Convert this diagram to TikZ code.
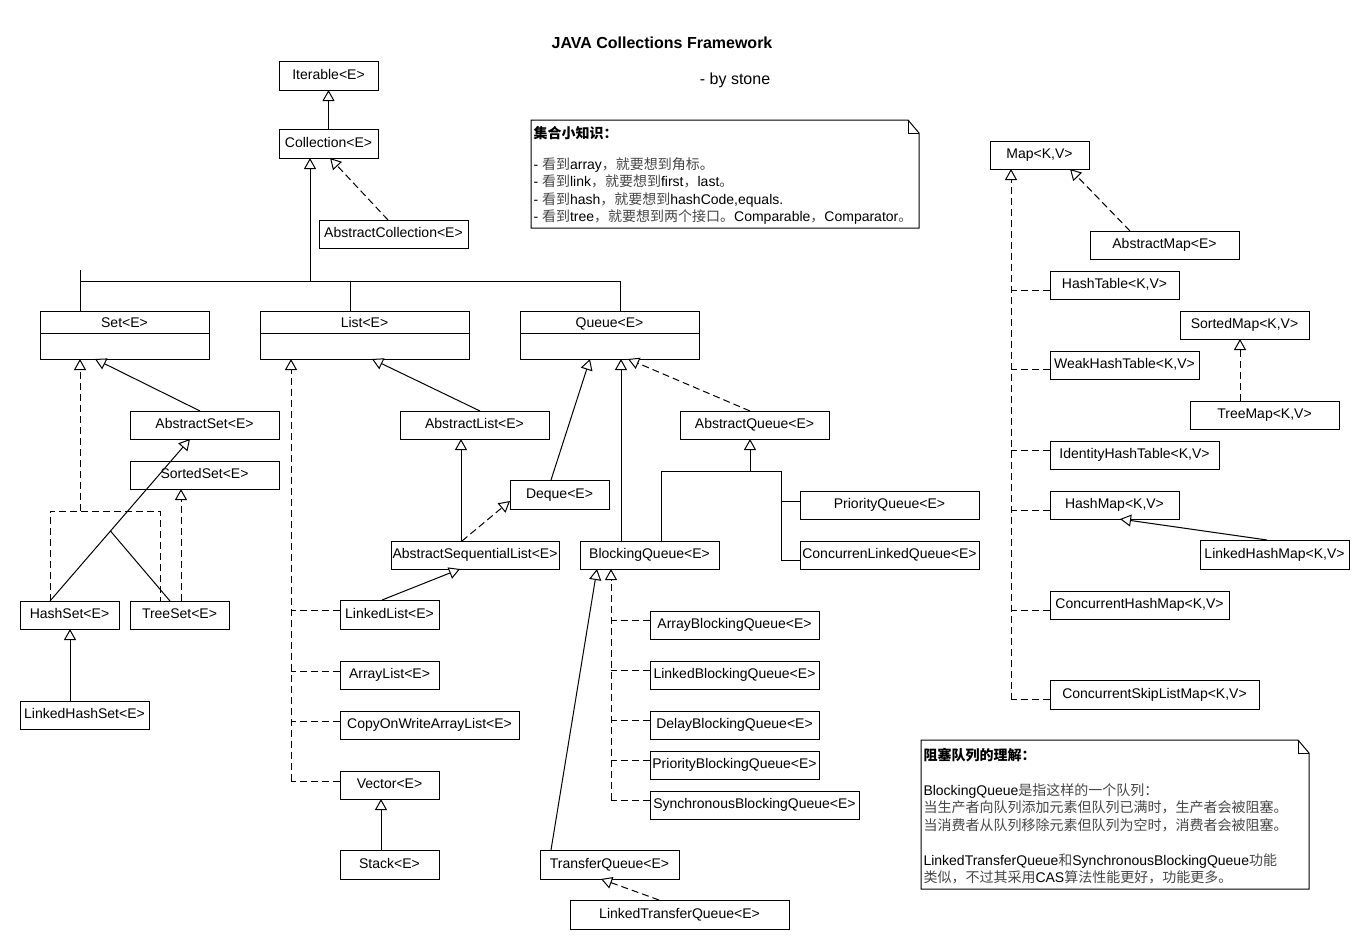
\documentclass[tikz,border=0pt]{standalone}
\usepackage{fontspec}
\setmainfont{Liberation Sans}
\newfontfamily\cjk{Noto Sans CJK SC}
\usetikzlibrary{arrows.meta,calc}
\newcommand\zh[1]{{\cjk\color{black!72}#1}}
\newcommand\zhb[1]{{\cjk\bfseries #1}}
\begin{document}
\begin{tikzpicture}[x=1pt,y=-1pt,line width=1pt,
  font=\fontsize{14}{17.5}\selectfont,
  box/.style={draw, inner sep=0pt, outer sep=0pt, anchor=north west, text height=11pt, text depth=4pt, minimum height=28pt},
  comp/.style={box, text height=16pt, text depth=32pt, minimum height=48pt},
  gen/.style={-{Triangle[length=11pt,width=12pt,fill=white]}},
  dsh/.style={dash pattern=on 7pt off 4pt},
  real/.style={gen, dsh},
  notetext/.style={anchor=north west, align=left, inner sep=0pt}
]
\fill[white] (0,0) rectangle (1370,950);

% title
\node[font=\bfseries\fontsize{16}{19}\selectfont] (title) at (662,43) {JAVA Collections Framework};
\node[anchor=east, font=\fontsize{16}{19}\selectfont] (by) at (774,80) {- by stone};

% collection part
\node[box, minimum width=99pt] (iter) at (279,62) {Iterable<E>};
\node[box, minimum width=99pt, minimum height=29pt] (coll) at (279,129) {Collection<E>};
\node[box, minimum width=149pt] (abscoll) at (319,220) {AbstractCollection<E>};
\node[comp, minimum width=169pt] (set) at (40,311) {Set<E>};
\node[comp, minimum width=209pt] (list) at (260,311) {List<E>};
\node[comp, minimum width=179pt] (queue) at (520,311) {Queue<E>};
\foreach \n in {set,list,queue}
  \draw ($(\n.north west)+(0,22)$) -- ($(\n.north east)+(0,22)$);

\node[box, minimum width=149pt] (absset) at (130,411) {AbstractSet<E>};
\node[box, minimum width=149pt] (sortedset) at (130,461) {SortedSet<E>};
\node[box, minimum width=99pt] (hashset) at (20,601) {HashSet<E>};
\node[box, minimum width=99pt] (treeset) at (130,601) {TreeSet<E>};
\node[box, minimum width=129pt] (lhset) at (20,701) {LinkedHashSet<E>};

\node[box, minimum width=149pt] (abslist) at (400,411) {AbstractList<E>};
\node[box, minimum width=168pt] (asl) at (391,541) {AbstractSequentialList<E>};
\node[box, minimum width=99pt, minimum height=29pt] (deque) at (510,480) {Deque<E>};
\node[box, minimum width=99pt, minimum height=29pt] (linkedlist) at (340,600) {LinkedList<E>};
\node[box, minimum width=99pt] (arraylist) at (340,661) {ArrayList<E>};
\node[box, minimum width=179pt] (cowal) at (340,711) {CopyOnWriteArrayList<E>};
\node[box, minimum width=99pt] (vector) at (340,771) {Vector<E>};
\node[box, minimum width=99pt, minimum height=29pt] (stack) at (340,850) {Stack<E>};

\node[box, minimum width=149pt] (absqueue) at (680,411) {AbstractQueue<E>};
\node[box, minimum width=179pt] (pq) at (800,491) {PriorityQueue<E>};
\node[box, minimum width=179pt] (clq) at (800,541) {ConcurrenLinkedQueue<E>};
\node[box, minimum width=139pt] (bq) at (580,541) {BlockingQueue<E>};
\node[box, minimum width=169pt] (abq) at (650,611) {ArrayBlockingQueue<E>};
\node[box, minimum width=169pt] (lbq) at (650,661) {LinkedBlockingQueue<E>};
\node[box, minimum width=169pt] (dbq) at (650,711) {DelayBlockingQueue<E>};
\node[box, minimum width=169pt] (pbq) at (650,751) {PriorityBlockingQueue<E>};
\node[box, minimum width=209pt] (sbq) at (650,791) {SynchronousBlockingQueue<E>};
\node[box, minimum width=139pt, minimum height=29pt] (tq) at (540,850) {TransferQueue<E>};
\node[box, minimum width=219pt, minimum height=29pt] (ltq) at (570,900) {LinkedTransferQueue<E>};

% map part
\node[box, minimum width=99pt] (map) at (990,141) {Map<K,V>};
\node[box, minimum width=149pt] (absmap) at (1090,231) {AbstractMap<E>};
\node[box, minimum width=129pt] (hashtable) at (1050,271) {HashTable<K,V>};
\node[box, minimum width=129pt] (sortedmap) at (1180,311) {SortedMap<K,V>};
\node[box, minimum width=149pt] (weak) at (1050,351) {WeakHashTable<K,V>};
\node[box, minimum width=149pt] (treemap) at (1190,401) {TreeMap<K,V>};
\node[box, minimum width=169pt] (identity) at (1050,441) {IdentityHashTable<K,V>};
\node[box, minimum width=129pt] (hashmap) at (1050,491) {HashMap<K,V>};
\node[box, minimum width=149pt, minimum height=29pt] (lhmap) at (1200,540) {LinkedHashMap<K,V>};
\node[box, minimum width=179pt] (chm) at (1050,591) {ConcurrentHashMap<K,V>};
\node[box, minimum width=209pt, minimum height=29pt] (cslm) at (1050,680) {ConcurrentSkipListMap<K,V>};

% notes
\draw (531,120) -- (908,120) -- (919,133) -- (919,228) -- (531,228) -- cycle;
\draw (908,120) -- (908,133) -- (919,133);
\node[notetext] (n1) at (533,126) {\zhb{集合小知识：}\\[13pt]
- \zh{看到}array\zh{，就要想到角标。}\\
- \zh{看到}link\zh{，就要想到}first\zh{，}last\zh{。}\\
- \zh{看到}hash\zh{，就要想到}hashCode,equals.\\
- \zh{看到}tree\zh{，就要想到两个接口。}Comparable\zh{，}Comparator\zh{。}};

\draw (921,740) -- (1298,740) -- (1309,753) -- (1309,889) -- (921,889) -- cycle;
\draw (1298,740) -- (1298,753) -- (1309,753);
\node[notetext] (n2) at (923,748) {\zhb{阻塞队列的理解：}\\[17pt]
BlockingQueue\zh{是指这样的一个队列：}\\
\zh{当生产者向队列添加元素但队列已满时，生产者会被阻塞。}\\
\zh{当消费者从队列移除元素但队列为空时，消费者会被阻塞。}\\[17.5pt]
LinkedTransferQueue\zh{和}SynchronousBlockingQueue\zh{功能}\\
\zh{类似，不过其采用}CAS\zh{算法性能更好，功能更多。}};

% ---------- connectors: collection ----------
\draw[gen] (coll.north) -- (iter.south);
\coordinate (collin) at ($(coll.south west)+(31,0)$);
\coordinate (busL) at ($(set.north west)+(40,-30)$);
\coordinate (busR) at ($(queue.north west)+(100,-30)$);
\draw ($(set.north west)+(40,-41)$) -- ($(set.north west)+(40,0)$);
\draw (busL) -- (busR);
\draw ($(list.north west)+(90,0)$) -- ++(0,-30);
\draw (busR) -- ($(queue.north west)+(100,0)$);
\draw[gen] (busL -| collin) -- (collin);
\draw[real] ($(abscoll.north west)+(69,0)$) -- ($(coll.south west)+(51,0)$);

% set
\coordinate (sj) at ($(set.south west)+(40,152)$);
\draw[real] (sj) -- ($(set.south west)+(40,0)$);
\draw[dsh] ($(hashset.north west)+(30,0)$) |- (sj) -| ($(treeset.north west)+(30,0)$);
\draw[gen] ($(absset.north west)+(70,0)$) -- ($(set.south west)+(55,0)$);
\coordinate (hsTop) at ($(hashset.north west)+(30,0)$);
\coordinate (asBot) at ($(absset.south west)+(60,0)$);
\draw[gen] (hsTop) -- (asBot);
\draw ($(hsTop)!0.432!(asBot)$) -- ($(treeset.north west)+(40,0)$);
\draw[real] ($(treeset.north west)+(51,0)$) -- ($(sortedset.south west)+(51,0)$);
\draw[gen] ($(lhset.north west)+(50,0)$) -- ($(hashset.south west)+(50,0)$);

% list
\draw[real] ($(vector.west)+(-49,-4)$) -- ($(list.south west)+(31,0)$);
\foreach \n in {linkedlist,arraylist,cowal,vector}
  \draw[dsh] ($(\n.west)+(0,-4)$) -- ++(-49,0);
\draw[gen] ($(abslist.north west)+(80,0)$) -- ($(list.south west)+(112,0)$);
\draw[gen] ($(asl.north west)+(70,0)$) -- ($(abslist.south west)+(61,0)$);
\draw[real] ($(asl.north west)+(71,0)$) -- ($(deque.south west)+(0,-8)$);
\draw[gen] ($(linkedlist.north west)+(42,0)$) -- ($(asl.south west)+(69,0)$);
\draw[gen] ($(stack.north west)+(41,0)$) -- ($(vector.south west)+(41,0)$);

% queue
\draw[gen] ($(deque.north west)+(41,0)$) -- ($(queue.south west)+(70,0)$);
\draw[gen] ($(bq.north west)+(41,0)$) -- ($(queue.south west)+(101,0)$);
\draw[real] ($(absqueue.north west)+(70,0)$) -- ($(queue.south west)+(108,0)$);
\coordinate (aqj) at ($(absqueue.south west)+(70,32)$);
\draw[gen] (aqj) -- ($(absqueue.south west)+(70,0)$);
\draw ($(bq.north west)+(81,0)$) |- ($(aqj)+(31,0)$) |- ($(clq.west)+(0,5)$);
\draw ($(aqj)+(31,30)$) -- ($(pq.west)+(0,-4)$);
\draw[gen] ($(tq.north west)+(11,0)$) -- ($(bq.south west)+(17,0)$);
\draw[real] ($(sbq.west)+(-39,-5)$) -- ($(bq.south west)+(31,0)$);
\foreach \n in {abq,lbq,dbq,pbq,sbq}
  \draw[dsh] ($(\n.west)+(0,-5)$) -- ++(-39,0);
\draw[real] ($(ltq.north west)+(89,0)$) -- ($(tq.south west)+(61,0)$);

% map
\draw[real] ($(cslm.west)+(-39,5)$) -- ($(map.south west)+(21,0)$);
\foreach \n/\o in {hashtable/5,weak/4,identity/-5,hashmap/5,chm/5,cslm/5}
  \draw[dsh] ($(\n.west)+(0,\o)$) -- ++(-39,0);
\draw[real] ($(absmap.north west)+(40,0)$) -- ($(map.south west)+(80,0)$);
\draw[real] ($(treemap.north west)+(50,0)$) -- ($(sortedmap.south west)+(60,0)$);
\draw[gen] ($(lhmap.north west)+(67,0)$) -- ($(hashmap.south west)+(70,0)$);
\end{tikzpicture}
\end{document}
